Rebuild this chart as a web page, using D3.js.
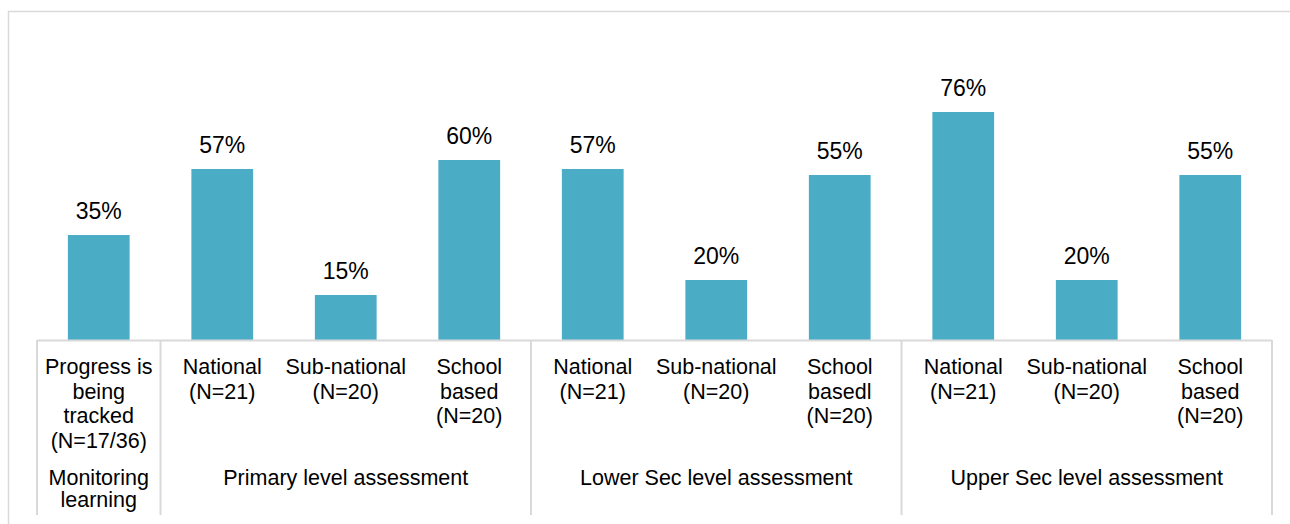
<!DOCTYPE html>
<html>
<head>
<meta charset="utf-8">
<script src="https://d3js.org/d3.v7.min.js"></script>
<style>
body { margin: 0; background: #fff; }
text { font-family: "Liberation Sans", Arial, sans-serif; fill: #000; }
</style>
</head>
<body>
<svg width="1290" height="524"></svg>
<script>
// chart values
const categories = [
  ["Progress is", "being", "tracked", "(N=17/36)"],
  ["National", "(N=21)"],
  ["Sub-national", "(N=20)"],
  ["School", "based", "(N=20)"],
  ["National", "(N=21)"],
  ["Sub-national", "(N=20)"],
  ["School", "basedl", "(N=20)"],
  ["National", "(N=21)"],
  ["Sub-national", "(N=20)"],
  ["School", "based", "(N=20)"]
];
const values = [35, 57, 15, 60, 57, 20, 55, 76, 20, 55];
const groupNames = [["Monitoring", "learning"], ["Primary level assessment"], ["Lower Sec level assessment"], ["Upper Sec level assessment"]];
const groupSizes = [1, 3, 3, 3];

const svg = d3.select("svg");
const gridColor = "#d9d9d9";
const barColor = "#4bacc6";

// outer frame (top and left edges visible)
svg.append("path")
  .attr("d", "M8.5,524 L8.5,11.5 L1290,11.5")
  .attr("fill", "none").attr("stroke", gridColor).attr("stroke-width", 1.5);

const x = d3.scaleBand().domain(d3.range(categories.length))
  .range([37, 1272]).paddingInner(0.5).paddingOuter(0.25);
const y = d3.scaleLinear().domain([0, 100]).range([340, 40]);

// bars
svg.append("g").selectAll("rect").data(values).enter().append("rect")
  .attr("x", (d, i) => x(i))
  .attr("y", d => y(d))
  .attr("width", x.bandwidth())
  .attr("height", d => y(0) - y(d))
  .attr("fill", barColor);

// value labels
svg.append("g").selectAll("text").data(values).enter().append("text")
  .attr("x", (d, i) => x(i) + x.bandwidth() / 2)
  .attr("y", d => y(d) - 16)
  .attr("text-anchor", "middle")
  .style("font-size", "23px")
  .text(d => d + "%");

// axis line
svg.append("line")
  .attr("x1", x.range()[0]).attr("x2", x.range()[1])
  .attr("y1", y(0) + 0.5).attr("y2", y(0) + 0.5)
  .attr("stroke", gridColor).attr("stroke-width", 2);

// category labels
const catG = svg.append("g");
categories.forEach((lines, i) => {
  const t = catG.append("text")
    .attr("x", x(i) + x.bandwidth() / 2)
    .attr("y", 374)
    .attr("text-anchor", "middle")
    .style("font-size", "21.5px");
  lines.forEach((ln, j) => {
    t.append("tspan").attr("x", x(i) + x.bandwidth() / 2)
      .attr("y", 374 + j * 24.7).text(ln);
  });
});

// group dividers and labels
const step = x.step();
let start = 0;
const bounds = [x.range()[0]];
groupSizes.forEach((n, gi) => {
  const x0 = x.range()[0] + start * step;
  const x1 = x0 + n * step;
  bounds.push(x1);
  const t = svg.append("text")
    .attr("x", (x0 + x1) / 2)
    .attr("text-anchor", "middle")
    .style("font-size", "21.5px");
  groupNames[gi].forEach((ln, j) => {
    t.append("tspan").attr("x", (x0 + x1) / 2).attr("y", 485 + j * 21.5).text(ln);
  });
  start += n;
});

svg.append("g").selectAll("line").data(bounds).enter().append("line")
  .attr("x1", d => d).attr("x2", d => d)
  .attr("y1", y(0)).attr("y2", 515)
  .attr("stroke", gridColor).attr("stroke-width", 2);
</script>
</body>
</html>
